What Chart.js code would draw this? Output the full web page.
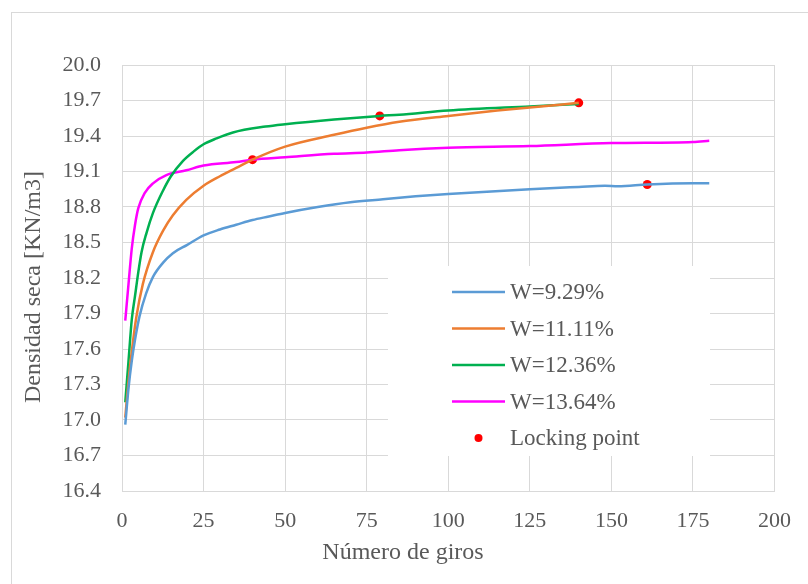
<!DOCTYPE html>
<html>
<head>
<meta charset="utf-8">
<script src="https://cdn.jsdelivr.net/npm/chart.js@4"></script>
<style>
  html, body { margin: 0; padding: 0; background: #fff; }
  #wrap { width: 808px; height: 584px; }
</style>
</head>
<body>
<div id="wrap"><canvas id="chart" width="808" height="584"></canvas></div>
<script>
// W = 9.29%
const girosA = [1, 2, 3, 4, 5.4, 7.4, 9.5, 12.6, 15.6, 20, 25, 30, 35, 40, 45, 50, 60, 70, 80, 90, 100, 125, 140, 148, 152, 161, 175, 180];
const densA = [16.96, 17.27, 17.5, 17.68, 17.88, 18.07, 18.21, 18.33, 18.41, 18.48, 18.56, 18.61, 18.65, 18.69, 18.72, 18.75, 18.8, 18.84, 18.865, 18.89, 18.91, 18.95, 18.97, 18.98, 18.975, 18.99, 19.0, 19.0];
// W = 11.11%
const girosB = [1, 2, 3, 4.4, 6.4, 9.5, 12.6, 15.6, 19.7, 25, 30, 35, 40, 50, 65, 75, 85, 100, 115, 125, 140];
const densB = [17.02, 17.33, 17.58, 17.87, 18.15, 18.42, 18.6, 18.73, 18.86, 18.98, 19.06, 19.13, 19.2, 19.31, 19.41, 19.47, 19.52, 19.57, 19.615, 19.64, 19.68];
// W = 12.36%
const girosC = [1, 2, 3, 4, 5, 6, 7.5, 9.5, 12.6, 15, 18.7, 22, 25, 29, 34, 44, 50, 65, 79, 85, 100, 125, 140];
const densC = [17.15, 17.5, 17.85, 18.05, 18.25, 18.42, 18.58, 18.75, 18.94, 19.06, 19.19, 19.27, 19.33, 19.38, 19.43, 19.48, 19.5, 19.54, 19.57, 19.58, 19.615, 19.65, 19.67];
// W = 13.64%
const girosD = [1, 2, 3, 4, 5, 7, 9.5, 13.6, 19.7, 25, 35, 40, 50, 65, 75, 85, 100, 125, 150, 175, 180];
const densD = [17.84, 18.15, 18.45, 18.65, 18.79, 18.92, 19.0, 19.07, 19.11, 19.15, 19.18, 19.2, 19.22, 19.25, 19.26, 19.28, 19.3, 19.315, 19.34, 19.35, 19.36];
// Locking points
const lockGiros = [40, 79, 140, 161];
const lockDens = [19.2, 19.57, 19.68, 18.99];

const seriesNames = ['W=9.29%', 'W=11.11%', 'W=12.36%', 'W=13.64%', 'Locking point'];
const seriesColors = ['#5b9bd5', '#ed7d31', '#00b050', '#ff00ff', '#ff0000'];

const xTitle = 'Número de giros';
const yTitle = 'Densidad seca [KN/m3]';

const FONT = 'Liberation Serif';
const TXT = '#595959';
const GRID = '#d9d9d9';

function pts(xs, ys) {
    return xs.map((x, i) => ({ x: x, y: ys[i] }));
}

function lineSet(i, xs, ys) {
    return {
        label: seriesNames[i],
        data: pts(xs, ys),
        borderColor: seriesColors[i],
        backgroundColor: seriesColors[i],
        borderWidth: 2.5,
        pointRadius: 0,
        cubicInterpolationMode: 'monotone',
        fill: false,
    };
}

const datasets = [
    lineSet(0, girosA, densA),
    lineSet(1, girosB, densB),
    lineSet(2, girosC, densC),
    lineSet(3, girosD, densD),
    {
        label: seriesNames[4],
        data: pts(lockGiros, lockDens),
        showLine: false,
        pointRadius: 4.5,
        pointHoverRadius: 4.5,
        pointBorderWidth: 0,
        backgroundColor: seriesColors[4],
        borderColor: seriesColors[4],
    },
];

// outer frame, white background and axis titles (centred on the whole chart like Excel)
const framePlugin = {
    id: 'frame',
    beforeDraw(chart) {
        const ctx = chart.ctx;
        ctx.save();
        ctx.fillStyle = '#fff';
        ctx.fillRect(0, 0, chart.width, chart.height);
        ctx.strokeStyle = GRID;
        ctx.lineWidth = 1;
        ctx.strokeRect(11.5, 12.5, 900, 700);
        ctx.restore();
    },
    afterDraw(chart) {
        const ctx = chart.ctx;
        ctx.save();
        ctx.fillStyle = TXT;
        ctx.font = '24px "' + FONT + '"';
        ctx.textAlign = 'center';
        ctx.textBaseline = 'middle';
        ctx.fillText(xTitle, 403, 553);
        ctx.translate(34, 287);
        ctx.rotate(-Math.PI / 2);
        ctx.fillText(yTitle, 0, 0);
        ctx.restore();
    },
};

// legend box drawn inside the plot area
const boxLegend = {
    id: 'boxLegend',
    beforeDatasetsDraw(chart) {
        const ctx = chart.ctx;
        const left = 388, top = 266, w = 322, h = 190;
        ctx.save();
        ctx.fillStyle = '#fff';
        ctx.fillRect(left, top, w, h);
        ctx.font = '23px "' + FONT + '"';
        ctx.textBaseline = 'middle';
        chart.data.datasets.forEach((ds, i) => {
            const y = 292 + i * 36.5;
            if (ds.showLine === false) {
                ctx.beginPath();
                ctx.fillStyle = ds.backgroundColor;
                ctx.arc(478.5, y, 4, 0, Math.PI * 2);
                ctx.fill();
            } else {
                ctx.beginPath();
                ctx.strokeStyle = ds.borderColor;
                ctx.lineWidth = 2.5;
                ctx.moveTo(452, y);
                ctx.lineTo(505, y);
                ctx.stroke();
            }
            ctx.fillStyle = TXT;
            ctx.fillText(ds.label, 510, y + 1);
        });
        ctx.restore();
    },
};

const config = {
    type: 'line',
    data: { datasets },
    options: {
        responsive: false,
        animation: false,
        events: [],
        layout: { padding: { left: 0, top: 65, right: 32, bottom: 0 } },
        plugins: {
            legend: { display: false },
            tooltip: { enabled: false },
        },
        scales: {
            x: {
                type: 'linear',
                min: 0,
                max: 200,
                ticks: { stepSize: 25, color: TXT, padding: 17, font: { family: FONT, size: 22 } },
                grid: { color: GRID, lineWidth: 1, drawTicks: false },
                border: { color: GRID, width: 1 },
                afterFit(scale) { scale.height = 93; },
            },
            y: {
                type: 'linear',
                min: 16.4,
                max: 20.0,
                ticks: {
                    stepSize: 0.3,
                    color: TXT,
                    padding: 21,
                    font: { family: FONT, size: 22 },
                    callback: (v) => Number(v).toFixed(1),
                },
                grid: { color: GRID, lineWidth: 1, drawTicks: false },
                border: { color: GRID, width: 1 },
                afterFit(scale) { scale.width = 122; },
            },
        },
    },
    plugins: [framePlugin, boxLegend],
};

const densChart = new Chart(document.getElementById('chart'), config);
</script>
</body>
</html>
